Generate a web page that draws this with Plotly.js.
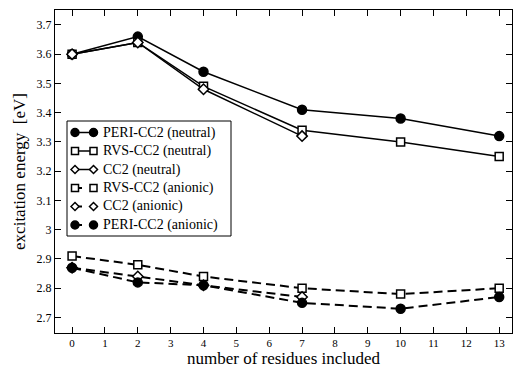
<!DOCTYPE html>
<html>
<head>
<meta charset="utf-8">
<script src="https://cdn.plot.ly/plotly-3.0.1.min.js"></script>
<style>html,body{margin:0;padding:0;background:#fff;}#chart{width:513px;height:368px;}</style>
</head>
<body>
<div id="chart"></div>
<script>
const residues = [0, 2, 4, 7, 10, 13];
const residuesCC2 = [0, 2, 4, 7];
const periNeutral = [3.60, 3.66, 3.54, 3.41, 3.38, 3.32];
const rvsNeutral = [3.60, 3.64, 3.49, 3.34, 3.30, 3.25];
const cc2Neutral = [3.60, 3.64, 3.48, 3.32];
const rvsAnionic = [2.91, 2.88, 2.84, 2.80, 2.78, 2.80];
const cc2Anionic = [2.87, 2.84, 2.81, 2.77];
const periAnionic = [2.87, 2.82, 2.81, 2.75, 2.73, 2.77];
const seriesNames = ['PERI-CC2 (neutral)', 'RVS-CC2 (neutral)', 'CC2 (neutral)',
                     'RVS-CC2 (anionic)', 'CC2 (anionic)', 'PERI-CC2 (anionic)'];
const xTicks = [0,1,2,3,4,5,6,7,8,9,10,11,12,13];
const yTicks = [2.7,2.8,2.9,3.0,3.1,3.2,3.3,3.4,3.5,3.6,3.7];
const yTickText = ['2.7','2.8','2.9','3','3.1','3.2','3.3','3.4','3.5','3.6','3.7'];

const styles = [
  {sym: 'circle', dashed: false, filled: true},
  {sym: 'square', dashed: false, filled: false},
  {sym: 'diamond', dashed: false, filled: false},
  {sym: 'square', dashed: true, filled: false},
  {sym: 'diamond', dashed: true, filled: false},
  {sym: 'circle', dashed: true, filled: true}
];
const xs = [residues, residues, residuesCC2, residues, residuesCC2, residues];
const ys = [periNeutral, rvsNeutral, cc2Neutral, rvsAnionic, cc2Anionic, periAnionic];

const data = seriesNames.map((name, i) => {
  const s = styles[i];
  return {
    x: xs[i], y: ys[i], name: name, type: 'scatter', mode: 'lines+markers',
    showlegend: false,
    line: {color: '#000', width: s.dashed ? 2 : 1.5, dash: s.dashed ? '9px,5px' : 'solid'},
    marker: {symbol: s.sym, size: s.sym === 'circle' ? 9 : 8,
             color: s.filled ? '#000' : '#fff',
             line: {color: '#000', width: 1.5}}
  };
});

const FAM = '"Liberation Serif", "Times New Roman", Times, serif';

// Legend box drawn in paper coordinates (plot area: 457 x 323 px)
const M = {l: 55, r: 1, t: 10, b: 35};
const PW = 513 - M.l - M.r, PH = 368 - M.t - M.b;
const px = v => (v - M.l) / PW;
const py = v => (368 - M.b - v) / PH;

const shapes = [{
  type: 'rect', xref: 'paper', yref: 'paper',
  x0: px(67), x1: px(231), y0: py(121), y1: py(236),
  fillcolor: '#fff', line: {color: '#000', width: 1}
}];
const annotations = [];
const itemY0 = 132.5, itemDY = 18.5, symL = 75, symR = 93.5;

function symShape(sym, filled, cx, cy) {
  const base = {xref: 'paper', yref: 'paper', xsizemode: 'pixel', ysizemode: 'pixel',
    xanchor: px(cx), yanchor: py(cy), fillcolor: filled ? '#000' : '#fff',
    line: {color: '#000', width: 1.5}};
  if (sym === 'circle') return Object.assign(base, {type: 'circle', x0: -4, x1: 4, y0: -4, y1: 4});
  if (sym === 'square') return Object.assign(base, {type: 'rect', x0: -3.5, x1: 3.5, y0: -3.5, y1: 3.5});
  return Object.assign(base, {type: 'path', path: 'M -4 0 L 0 4 L 4 0 L 0 -4 Z'});
}

seriesNames.forEach((name, i) => {
  const s = styles[i];
  const cy = itemY0 + i * itemDY;
  if (s.dashed) {
    shapes.push({type: 'line', xref: 'paper', yref: 'paper',
      x0: px(symL), x1: px(symL + 7), y0: py(cy), y1: py(cy), line: {color: '#000', width: 2}});
  } else {
    shapes.push({type: 'line', xref: 'paper', yref: 'paper',
      x0: px(symL), x1: px(symR), y0: py(cy), y1: py(cy), line: {color: '#000', width: 1.5}});
  }
  shapes.push(symShape(s.sym, s.filled, symL, cy));
  shapes.push(symShape(s.sym, s.filled, symR, cy));
  annotations.push({xref: 'paper', yref: 'paper', x: px(101), y: py(cy),
    xanchor: 'left', yanchor: 'middle', showarrow: false, text: name,
    font: {family: FAM, size: 14, color: '#000'}});
});

const layout = {
  width: 513, height: 368,
  margin: M,
  paper_bgcolor: '#fff', plot_bgcolor: '#fff',
  font: {family: FAM, size: 12, color: '#000'},
  showlegend: false,
  shapes: shapes,
  annotations: annotations,
  xaxis: {
    range: [-0.52, 13.39],
    tickvals: xTicks, ticktext: xTicks.map(String),
    ticks: 'inside', ticklen: 6, tickwidth: 1, tickcolor: '#000',
    showline: true, linecolor: '#000', linewidth: 1, mirror: 'ticks',
    showgrid: false, zeroline: false,
    tickfont: {family: FAM, size: 11, color: '#000'},
    title: {text: 'number of residues included', font: {family: FAM, size: 17, color: '#000'}, standoff: 0}
  },
  yaxis: {
    range: [2.647, 3.751],
    tickvals: yTicks, ticktext: yTickText,
    ticks: 'inside', ticklen: 6, tickwidth: 1, tickcolor: '#000',
    showline: true, linecolor: '#000', linewidth: 1, mirror: 'ticks',
    showgrid: false, zeroline: false,
    tickfont: {family: FAM, size: 12, color: '#000'},
    title: {text: 'excitation energy  [eV]', font: {family: FAM, size: 17, color: '#000'}, standoff: 6}
  }
};

Plotly.newPlot('chart', data, layout, {displayModeBar: false, staticPlot: true});
</script>
</body>
</html>
